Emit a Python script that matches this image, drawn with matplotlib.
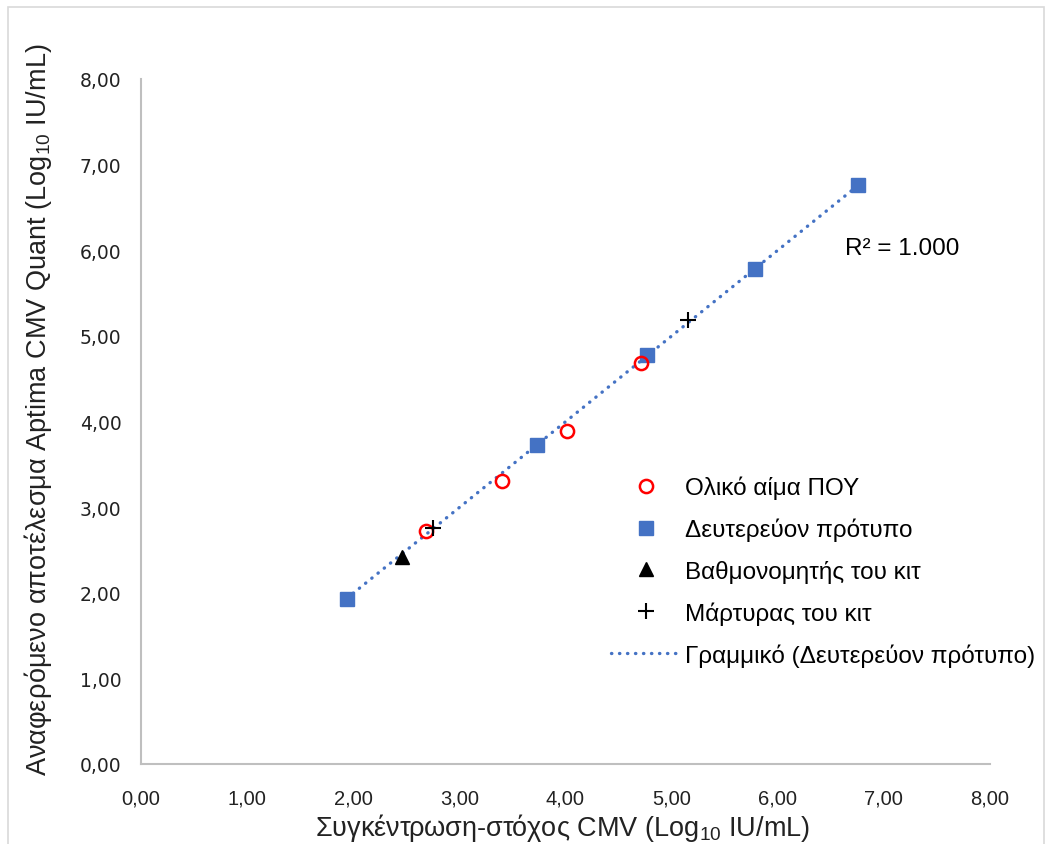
import numpy as np
import matplotlib
matplotlib.use("Agg")
from matplotlib import pyplot as plt
from matplotlib.patches import Rectangle
from matplotlib.ticker import FuncFormatter, MultipleLocator

plt.rcParams['font.family'] = ['Liberation Sans', 'DejaVu Sans']
plt.rcParams['mathtext.fontset'] = 'custom'
plt.rcParams['mathtext.rm'] = 'Liberation Sans'
plt.rcParams['mathtext.it'] = 'Liberation Sans:italic'

# values (Log10 IU/mL)
whole_blood_x = [2.69, 3.40, 4.01, 4.71]
whole_blood_y = [2.72, 3.31, 3.89, 4.68]
secondary_x = [1.94, 3.73, 4.77, 5.79, 6.76]
secondary_y = [1.93, 3.73, 4.78, 5.78, 6.76]
calibrator_x = [2.46]
calibrator_y = [2.42]
control_x = [2.75, 5.15]
control_y = [2.76, 5.19]

labels = ['Ολικό αίμα ΠΟΥ', 'Δευτερεύον πρότυπο', 'Βαθμονομητής του κιτ',
          'Μάρτυρας του κιτ', 'Γραμμικό (Δευτερεύον πρότυπο)']

W, H = 1051, 845
fig = plt.figure(figsize=(W / 100, H / 100), dpi=100)
ax = fig.add_axes([141 / W, 1 - 765 / H, (990 - 141) / W, (765 - 80) / H])

blue = '#4472C4'
ax.plot(whole_blood_x, whole_blood_y, 'o', ms=9.5, mfc='none', mec='#FF0000', mew=1.8,
        label=labels[0], zorder=4)
ax.plot(secondary_x, secondary_y, 's', ms=10, color=blue, label=labels[1], zorder=3)
ax.plot(calibrator_x, calibrator_y, '^', ms=10, color='black', label=labels[2], zorder=4)
ax.plot(control_x, control_y, '+', ms=11, mew=1.5, color='black', label=labels[3], zorder=5)

# linear trendline through the secondary standard
slope, icpt = np.polyfit(secondary_x, secondary_y, 1)
xs = np.array([min(secondary_x), max(secondary_x)])
ax.plot(xs, slope * xs + icpt, color=blue, lw=2.4, linestyle=(0, (0.1, 2.3)),
        dash_capstyle='round', label=labels[4], zorder=2)

r = np.corrcoef(secondary_x, secondary_y)[0, 1]
ax.text(6.63, 6.03, 'R² = {:.3f}'.format(r ** 2), fontsize=17.5, va='center', ha='left')

ax.set_xlim(0, 8)
ax.set_ylim(0, 8)
ax.xaxis.set_major_locator(MultipleLocator(1))
ax.yaxis.set_major_locator(MultipleLocator(1))
fmt = FuncFormatter(lambda v, p: '{:.2f}'.format(v).replace('.', ','))
ax.xaxis.set_major_formatter(fmt)
ax.yaxis.set_major_formatter(fmt)
ax.tick_params(length=0, colors='#222222')
ax.tick_params(axis='x', labelsize=14.5, pad=18)
ax.tick_params(axis='y', labelsize=13.5, pad=14)
for t in ax.get_yticklabels():
    t.set_family('DejaVu Sans')
for s in ['top', 'right']:
    ax.spines[s].set_visible(False)
for s in ['left', 'bottom']:
    ax.spines[s].set_color('#BFBFBF')
    ax.spines[s].set_linewidth(1.5)

ax.set_xlabel('Συγκέντρωση-στόχος CMV (Log$_{10}$ IU/mL)', fontsize=19.5, color='#222222')
ax.xaxis.set_label_coords(0.496, -0.092)
ax.xaxis.label.set_va('center')
ax.set_ylabel('Αναφερόμενο αποτέλεσμα Aptima CMV Quant (Log$_{10}$ IU/mL)',
              fontsize=19.5, color='#222222')
ax.yaxis.set_label_coords(-0.121, 0.518)
ax.yaxis.label.set_va('center')

ax.legend(loc='upper left', bbox_to_anchor=(611 / W, 1 - 477 / H),
          bbox_transform=fig.transFigure, frameon=False, fontsize=17.5,
          handlelength=2.85, handletextpad=0.2, labelspacing=0.76, borderpad=0,
          borderaxespad=0)

fig.patches.append(Rectangle((8 / W, -0.02), (1044 - 8) / W, 1.02 - 8 / H,
                             transform=fig.transFigure, fill=False,
                             edgecolor='#D9D9D9', lw=1.2))

fig.savefig('out.png', dpi=100)
